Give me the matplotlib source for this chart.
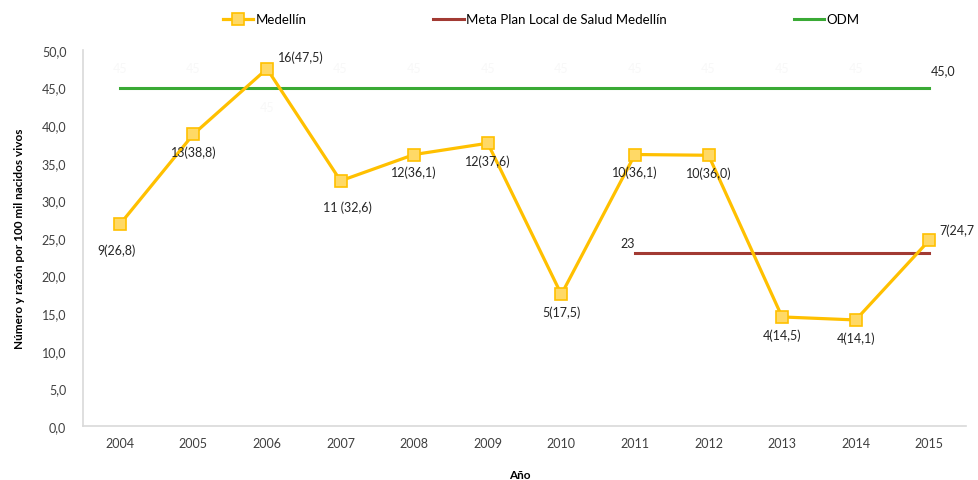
import matplotlib.pyplot as plt
from matplotlib.ticker import FuncFormatter

years = ['2004', '2005', '2006', '2007', '2008', '2009', '2010', '2011', '2012', '2013', '2014', '2015']
medellin = [26.8, 38.8, 47.5, 32.6, 36.1, 37.6, 17.5, 36.1, 36.0, 14.5, 14.1, 24.7]
cases = [9, 13, 16, 11, 12, 12, 5, 10, 10, 4, 4, 7]
meta_years = ['2011', '2012', '2013', '2014', '2015']
meta = [23, 23, 23, 23, 23]
odm = [45.0] * 12

plt.rcParams['font.family'] = ['Lato', 'DejaVu Sans']

fig = plt.figure(figsize=(9.79, 4.81), dpi=100)
ax = fig.add_axes([0.0848, 0.1123, 0.902, 0.7817])

x = list(range(len(years)))
meta_x = [years.index(y) for y in meta_years]

ax.plot(x, medellin, color='#ffc000', lw=2.3, marker='s', markersize=8,
        markerfacecolor='#ffd966', markeredgecolor='#ffc000', markeredgewidth=1.2,
        label='Medellín', zorder=3)
ax.plot(meta_x, meta, color='#a23a33', lw=2.2, label='Meta Plan Local de Salud Medellín', zorder=2)
ax.plot(x, odm, color='#3aaa35', lw=2.2, label='ODM', zorder=2)

# data labels for Medellín
offsets = {0: (-2, -14, 'center', 'top'), 2: (8, 4, 'left', 'bottom'), 3: (5, -14, 'center', 'top'),
           11: (7, 3, 'left', 'bottom')}
for i, (c, v) in enumerate(zip(cases, medellin)):
    lab = '%d(%s)' % (c, ('%.1f' % v).replace('.', ','))
    if i == 3:
        lab = '%d (%s)' % (c, ('%.1f' % v).replace('.', ','))
    if i == 11:
        lab = '%d(%s' % (c, ('%.1f' % v).replace('.', ','))
    dx, dy, ha, va = offsets.get(i, (0, -8, 'center', 'top'))
    ax.annotate(lab, (i, v), xytext=(dx, dy), textcoords='offset points',
                ha=ha, va=va, fontsize=9, color='#262626', annotation_clip=False)

# faint ODM labels (almost invisible in the reference)
for i in range(len(years) - 1):
    dy, va = (10, 'bottom') if i != 2 else (-10, 'top')
    ax.annotate('45', (i, odm[i]), xytext=(0, dy), textcoords='offset points',
                ha='center', va=va, fontsize=9, color='#f8f8f8', zorder=1)
ax.annotate('45,0', (x[-1], odm[-1]), xytext=(10, 8), textcoords='offset points',
            ha='center', va='bottom', fontsize=9, color='#262626')
ax.annotate('23', (meta_x[0], meta[0]), xytext=(-5, 3), textcoords='offset points',
            ha='center', va='bottom', fontsize=9, color='#262626')

ax.set_xlim(-0.5, len(years) - 0.5)
ax.set_ylim(0, 50)
ax.set_yticks([0, 5, 10, 15, 20, 25, 30, 35, 40, 45, 50])
ax.yaxis.set_major_formatter(FuncFormatter(lambda v, p: ('%.1f' % v).replace('.', ',')))
ax.set_xticks(x)
ax.set_xticklabels(years)
ax.tick_params(length=0, labelsize=9, colors='#404040', pad=8)
ax.tick_params(axis='y', pad=12)

for s in ['top', 'right']:
    ax.spines[s].set_visible(False)
for s in ['left', 'bottom']:
    ax.spines[s].set_color('#d9d9d9')
    ax.spines[s].set_linewidth(1.2)

ax.set_ylabel('Número y razón por 100 mil nacidos vivos', fontsize=8.5, fontweight='bold', labelpad=12)
fig.text(0.531, 0.012, 'Año', ha='center', va='center', fontsize=8.5, fontweight='bold')

fig.legend(loc='upper center', bbox_to_anchor=(0.553, 0.995), ncol=3, frameon=False,
           fontsize=9.5, columnspacing=9.6, handlelength=2.3, handletextpad=0.2)

plt.savefig('out.png', dpi=100)
